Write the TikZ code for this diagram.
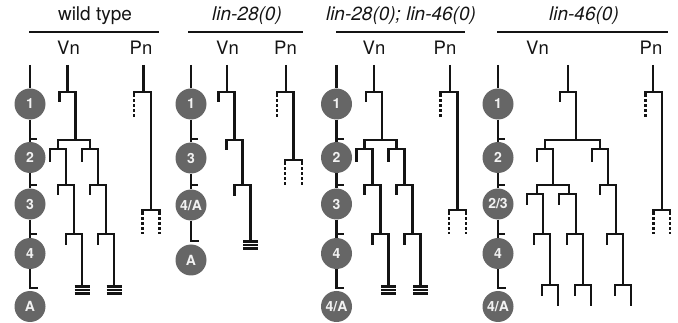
\documentclass[tikz,border=0pt]{standalone}
\usepackage{fontspec}
\setmainfont{TeX Gyre Heros}
\definecolor{linecol}{HTML}{141414}
\definecolor{stagegray}{HTML}{666666}
\definecolor{stagetext}{HTML}{F2F2F2}

\tikzset{
  ln/.style={line width=2.8pt, draw=linecol, line join=miter, line cap=butt},
  dotted stem/.style={line width=2.8pt, draw=linecol, dash pattern=on 2.6pt off 2.4pt},
  stagecirc/.style={circle, fill=stagegray, inner sep=0pt, minimum size=31pt,
    text=stagetext, font=\fontsize{14}{15}\selectfont\bfseries},
  paneltitle/.style={anchor=base, inner sep=0pt, text=linecol,
    font=\fontsize{19}{22}\selectfont},
  collabel/.style={anchor=base, inner sep=0pt, text=linecol,
    font=\fontsize{18.5}{21}\selectfont},
  headrule/.style={line width=2.8pt, draw=linecol},
}

% one division: left x, right x, bar y, left leg end, right leg end
\newcommand\lindiv[5]{\draw[ln] (#1,#4) -- (#1,#3) -- (#2,#3) -- (#2,#5);}
% terminal differentiation mark (three short bars)
\newcommand\linend[2]{\foreach \tk in {0,1,2}{%
  \draw[linecol, line width=2.5pt] (#1-7.5,#2+1.5+3.6*\tk) -- (#1+7.5,#2+1.5+3.6*\tk);}}
% Pn division whose two daughters are drawn dotted
\newcommand\pnsplit[4]{%
  \draw[ln] (#1,#3+5) -- (#1,#3) -- (#2,#3) -- (#2,#3+5);
  \draw[dotted stem] (#1,#3+7.5) -- (#1,#4);
  \draw[dotted stem] (#2,#3+7.5) -- (#2,#4);}

% Vn and Pn lineages of the wild-type pattern
\newcommand\wtlineage{%
  \draw[ln] (67.5,65) -- (67.5,92);
  \lindiv{59.5}{75.5}{92}{102}{140}
  \lindiv{58}{90}{140}{149}{149}
  \lindiv{50}{66}{149}{162}{185}
  \lindiv{82}{98}{149}{162}{185}
  \lindiv{58}{74}{185}{195}{234}
  \lindiv{90}{106}{185}{195}{234}
  \lindiv{66}{82}{234}{245}{285}
  \lindiv{98}{114}{234}{245}{285}
  \linend{82}{285}
  \linend{114}{285}
  \draw[ln] (143.5,65) -- (143.5,92);
  \draw[ln] (134,97) -- (134,92) -- (151,92) -- (151,210);
  \draw[dotted stem] (134,99.5) -- (134,118);
  \pnsplit{142.5}{159.5}{210}{234}}

\begin{document}
\begin{tikzpicture}[x=1pt, y=-1pt]
\useasboundingbox (0,0) rectangle (678,323);

% ---------- headings ----------
\node[paneltitle] (t1) at (95,21) {wild type};
\node[paneltitle] (t2) at (247,21) {\itshape lin-28(0)};
\node[paneltitle] (t3) at (401,21) {\itshape lin-28(0); lin-46(0)};
\node[paneltitle] (t4) at (584,21) {\itshape lin-46(0)};
\draw[headrule] (29,32) -- (159,32);
\draw[headrule] (188,32) -- (303,32);
\draw[headrule] (336,32) -- (465,32);
\draw[headrule] (497,32) -- (668,32);

\node[collabel] (v1) at (68.5,55) {Vn};
\node[collabel] (p1) at (141,55) {Pn};
\node[collabel] (v2) at (227.5,55) {Vn};
\node[collabel] (p2) at (285.5,55) {Pn};
\node[collabel] (v3) at (374,55) {Vn};
\node[collabel] (p3) at (445,55) {Pn};
\node[collabel] (v4) at (537.5,55) {Vn};
\node[collabel] (p4) at (651,55) {Pn};

% ---------- stage columns ----------
% wild type
\coordinate (a0) at (30,65);
\node[stagecirc] (a1) at (30,104) {1};
\node[stagecirc] (a2) at (30,157.5) {2};
\node[stagecirc] (a3) at (30,204) {3};
\node[stagecirc] (a4) at (30,253.5) {4};
\node[stagecirc] (a5) at (30,306.5) {A};
\coordinate (aend) at (30,288);
\coordinate (afoot) at (37.5,288);
\draw[ln] (a0) -- (a1) -- (a2) -- (a3) -- (a4) -- (aend) -- (afoot);
\foreach \ty in {139,185,234} \draw[ln] (30,\ty) -- (37,\ty);

% lin-28(0)
\coordinate (b0) at (191,65);
\node[stagecirc] (b1) at (191,104) {1};
\node[stagecirc] (b2) at (191,158) {3};
\node[stagecirc] (b3) at (191,205) {4/A};
\node[stagecirc] (b4) at (191,260) {A};
\coordinate (bend) at (191,241);
\coordinate (bfoot) at (198.5,241);
\draw[ln] (b0) -- (b1) -- (b2) -- (b3) -- (bend) -- (bfoot);
\foreach \ty in {139,185} \draw[ln] (191,\ty) -- (198,\ty);

% lin-28(0); lin-46(0)
\coordinate (c0) at (336.5,65);
\node[stagecirc] (c1) at (336.5,104) {1};
\node[stagecirc] (c2) at (336.5,157.5) {2};
\node[stagecirc] (c3) at (336.5,204) {3};
\node[stagecirc] (c4) at (336.5,253.5) {4};
\node[stagecirc] (c5) at (336.5,306.5) {4/A};
\coordinate (cend) at (336.5,288);
\coordinate (cfoot) at (344,288);
\draw[ln] (c0) -- (c1) -- (c2) -- (c3) -- (c4) -- (cend) -- (cfoot);
\foreach \ty in {139,185,234} \draw[ln] (336.5,\ty) -- (343.5,\ty);

% lin-46(0)
\coordinate (d0) at (498,65);
\node[stagecirc] (d1) at (498,104) {1};
\node[stagecirc] (d2) at (498,157.5) {2};
\node[stagecirc] (d3) at (498,204) {2/3};
\node[stagecirc] (d4) at (498,253.5) {4};
\node[stagecirc] (d5) at (498,306.5) {4/A};
\coordinate (dend) at (498,288);
\coordinate (dfoot) at (505.5,288);
\draw[ln] (d0) -- (d1) -- (d2) -- (d3) -- (d4) -- (dend) -- (dfoot);
\foreach \ty in {139,185,234} \draw[ln] (498,\ty) -- (505,\ty);

% ---------- lineages ----------
% wild type
\wtlineage

% lin-28(0)
\draw[ln] (227,65) -- (227,92);
\lindiv{218.5}{234.5}{92}{102}{140}
\lindiv{226.5}{242.5}{140}{150}{185}
\lindiv{234.5}{250.5}{185}{196}{240}
\linend{250.5}{240}
\draw[ln] (286,65) -- (286,92);
\draw[ln] (277,97) -- (277,92) -- (293.5,92) -- (293.5,160);
\draw[dotted stem] (277,99.5) -- (277,118);
\pnsplit{285}{302}{160}{186}

% lin-28(0); lin-46(0)
\begin{scope}[xshift=306.5pt]
\wtlineage
\end{scope}

% lin-46(0)
\draw[ln] (568,65) -- (568,92);
\lindiv{560}{576}{92}{102}{140}
\lindiv{545}{600}{140}{149}{149}
\lindiv{537}{553}{149}{162}{185}
\lindiv{592}{608}{149}{162}{185}
\lindiv{537}{569}{185}{194}{194}
\lindiv{600}{616}{185}{195}{234}
\lindiv{527}{543}{194}{205}{234}
\lindiv{559}{576}{194}{205}{234}
\lindiv{534}{550}{234}{245}{285}
\lindiv{567}{583}{234}{245}{285}
\lindiv{607}{623}{234}{245}{285}
\lindiv{542}{558}{285}{296}{306}
\lindiv{575}{591}{285}{296}{306}
\lindiv{615}{631}{285}{296}{306}
\draw[ln] (653,65) -- (653,92);
\draw[ln] (645.5,97) -- (645.5,92) -- (662,92) -- (662,210);
\draw[dotted stem] (645.5,99.5) -- (645.5,118);
\pnsplit{653.5}{670}{210}{234}

\end{tikzpicture}
\end{document}
